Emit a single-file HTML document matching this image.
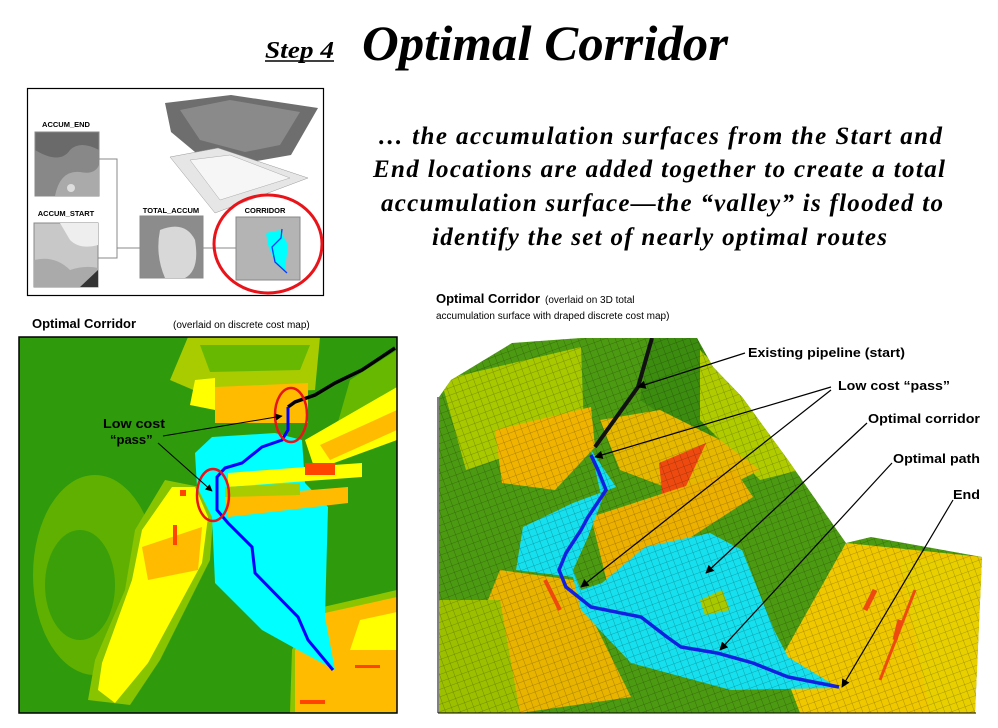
<!DOCTYPE html>
<html><head><meta charset="utf-8"><style>
html,body{margin:0;padding:0;background:#fff;}
svg{display:block;}
text{font-family:"Liberation Sans",sans-serif;}
.s{font-family:"Liberation Serif",serif;font-style:italic;font-weight:bold;}
.b{font-weight:bold;}
</style></head><body>
<svg width="998" height="728" viewBox="0 0 998 728" xmlns="http://www.w3.org/2000/svg">
<defs>
<marker id="ah" viewBox="0 0 10 10" refX="9" refY="5" markerWidth="7" markerHeight="7" orient="auto"><path d="M0,0L10,5L0,10z" fill="#000"/></marker>
<clipPath id="rc"><polygon points="439,397 451,380 512,343 581,338 697,338 713,367 742,397 788,460 846,543 871,537 982,557 975,713 439,713"/></clipPath>
<pattern id="grid" width="7" height="7" patternUnits="userSpaceOnUse" patternTransform="rotate(-20)"><path d="M0,0H7M0,0V7" stroke="#000" stroke-opacity="0.35" stroke-width="0.8" fill="none"/></pattern>
</defs>

<text class="s" x="265" y="58" font-size="24" textLength="69" lengthAdjust="spacingAndGlyphs">Step 4</text>
<line x1="265" y1="61" x2="334" y2="61" stroke="#000" stroke-width="1.5"/>
<text class="s" x="362" y="60" font-size="50" textLength="366" lengthAdjust="spacingAndGlyphs">Optimal Corridor</text>

<text class="s" x="378" y="144" font-size="25" textLength="564">… the accumulation surfaces from the Start and</text>
<text class="s" x="373" y="177" font-size="25" textLength="572">End locations are added together to create a total</text>
<text class="s" x="381" y="211" font-size="25" textLength="562">accumulation surface—the “valley” is flooded to</text>
<text class="s" x="432" y="245" font-size="25" textLength="455">identify the set of nearly optimal routes</text>

<rect x="27.5" y="88.5" width="296" height="207" fill="#fff" stroke="#000" stroke-width="1.2"/>
<polygon points="165,103 231,95 318,108 291,155 251,162 195,152 171,132" fill="#6e6e6e"/>
<polygon points="180,110 230,100 300,112 280,145 245,152 200,140" fill="#8a8a8a"/>
<polygon points="170,157 218,148 308,178 215,213" fill="#e6e6e6" stroke="#999" stroke-width="0.5"/>
<polygon points="190,160 230,155 290,178 220,200" fill="#f6f6f6" stroke="#aaa" stroke-width="0.5"/>
<text class="b" x="66" y="127" font-size="7.5" text-anchor="middle">ACCUM_END</text>
<rect x="35" y="132" width="64" height="64" fill="#6a6a6a" stroke="#888"/>
<path d="M35,150 Q60,165 70,150 Q80,140 99,150 V196 H35z" fill="#888"/>
<path d="M55,196 Q60,170 80,172 Q95,175 99,165 V196z" fill="#aaa"/>
<circle cx="71" cy="188" r="4" fill="#ddd"/>
<text class="b" x="66" y="216" font-size="7.5" text-anchor="middle">ACCUM_START</text>
<rect x="34" y="223" width="64" height="64" fill="#c8c8c8" stroke="#888"/>
<path d="M60,223 H98 V245 Q80,250 70,240z" fill="#eee"/>
<path d="M34,260 Q55,255 70,270 Q85,265 98,268 V287 H34z" fill="#aaa"/>
<path d="M80,287 L98,270 V287z" fill="#333"/>
<text class="b" x="171" y="213" font-size="7.5" text-anchor="middle">TOTAL_ACCUM</text>
<rect x="140" y="216" width="63" height="62" fill="#8c8c8c" stroke="#888"/>
<path d="M160,230 Q185,220 195,240 Q200,270 185,278 H165 Q155,255 160,230z" fill="#d8d8d8"/>
<text class="b" x="265" y="213" font-size="7.5" text-anchor="middle">CORRIDOR</text>
<rect x="236" y="217" width="64" height="63" fill="#b4b4b4" stroke="#888"/>
<polygon points="266,233 280,230 288,245 285,270 275,262 268,245" fill="#00ffff"/>
<polyline points="282,229 281,238 272,247 275,262 287,273" fill="none" stroke="#0040ff" stroke-width="1.3"/>
<polyline points="99,159 117,159 117,258 98,258" fill="none" stroke="#888"/>
<line x1="117" y1="248" x2="140" y2="248" stroke="#888"/>
<line x1="203" y1="248" x2="236" y2="248" stroke="#888"/>
<ellipse cx="268" cy="244" rx="54" ry="49" fill="none" stroke="#e8141a" stroke-width="3"/>

<text x="32" y="328" font-size="13" class="b">Optimal Corridor</text>
<text x="173" y="328" font-size="10">(overlaid on discrete cost map)</text>

<rect x="19" y="337" width="378" height="376" fill="#2f9a0c"/>
<polygon points="188,337 320,337 315,390 205,395 170,380" fill="#a8cc00"/>
<polygon points="200,345 310,345 300,370 210,372" fill="#66b800"/>
<polygon points="215,387 308,383 308,423 215,423" fill="#ffbb00"/>
<polygon points="195,380 215,378 215,410 190,405" fill="#ffff00"/>
<ellipse cx="95" cy="575" rx="62" ry="100" fill="#5fb000"/>
<ellipse cx="80" cy="585" rx="35" ry="55" fill="#3a9f08"/>
<polygon points="350,380 397,350 397,420 330,450" fill="#66b800"/>
<polygon points="305,440 397,387 397,440 315,470" fill="#ffff00"/>
<polygon points="320,445 397,410 397,430 330,460" fill="#ffbb00"/>
<polygon points="88,700 130,705 160,660 210,560 215,490 165,480 135,530 125,590 95,660" fill="#88c400"/>
<polygon points="98,690 115,703 148,663 202,563 208,517 195,487 172,487 142,530 132,580 102,663" fill="#ffff00"/>
<polygon points="142,547 202,527 198,570 148,580" fill="#ffbb00"/>
<rect x="173" y="525" width="4" height="20" fill="#ff4400"/>
<rect x="180" y="490" width="6" height="6" fill="#ff4400"/>
<polygon points="310,610 397,590 397,713 290,713 292,650" fill="#8cc400"/>
<polygon points="325,613 397,597 397,712 295,712 295,650" fill="#ffbb00"/>
<polygon points="360,620 397,612 397,650 350,650" fill="#ffff00"/>
<rect x="300" y="700" width="25" height="4" fill="#ff4400"/>
<rect x="355" y="665" width="25" height="3" fill="#ff4400"/>
<polygon points="195,453 212,437 275,433 302,440 305,483 328,507 325,617 335,670 298,650 262,630 215,583 212,517 197,487" fill="#00ffff"/>
<polygon points="228,473 305,467 362,463 362,477 228,487" fill="#ffff00"/>
<polygon points="225,497 348,487 348,503 228,517" fill="#ffbb00"/>
<polygon points="225,487 300,483 300,495 225,497" fill="#a8cc00"/>
<rect x="305" y="463" width="30" height="12" fill="#ff4400"/>
<polyline points="288,407 295,402 315,395 335,383 362,370 395,348" fill="none" stroke="#000" stroke-width="3.5"/>
<polyline points="288,407 288,430 282,440 262,447 242,463 225,468 217,477 217,510 228,523 252,547 255,573 298,617 308,640 333,670" fill="none" stroke="#0000ff" stroke-width="3"/>
<ellipse cx="291" cy="415" rx="16" ry="27" fill="none" stroke="#e8141a" stroke-width="2.5"/>
<ellipse cx="213" cy="495" rx="16" ry="26" fill="none" stroke="#e8141a" stroke-width="2.5"/>
<rect x="19" y="337" width="378" height="376" fill="none" stroke="#000" stroke-width="1.5"/>
<text class="b" x="103" y="428" font-size="13" textLength="62" lengthAdjust="spacingAndGlyphs">Low cost</text>
<text class="b" x="110" y="444" font-size="13">“pass”</text>
<line x1="163" y1="436" x2="282" y2="416" stroke="#000" marker-end="url(#ah)"/>
<line x1="158" y1="443" x2="212" y2="491" stroke="#000" marker-end="url(#ah)"/>

<text x="436" y="303" font-size="13" class="b">Optimal Corridor</text>
<text x="545" y="303" font-size="10">(overlaid on 3D total</text>
<text x="436" y="319" font-size="10">accumulation surface with draped discrete cost map)</text>

<g clip-path="url(#rc)">
<rect x="430" y="330" width="560" height="390" fill="#4c9a12"/>
<polygon points="441,380 581,347 584,430 466,470" fill="#a8c800"/>
<polygon points="650,338 720,338 760,420 700,440 640,400" fill="#3c8c10"/>
<polygon points="700,350 740,390 800,470 760,480 700,420" fill="#b0cc00"/>
<polygon points="495,430 591,407 595,447 555,490 502,483" fill="#f0b400"/>
<polygon points="600,420 660,410 720,440 760,470 700,500 620,470" fill="#e6b800"/>
<polygon points="659,463 706,443 681,497 663,500" fill="#ee4a10"/>
<polygon points="591,517 735,470 753,497 609,590" fill="#ecb000"/>
<polygon points="500,570 573,580 631,697 520,713 470,713 480,620" fill="#e8b400"/>
<polygon points="439,600 500,600 520,713 439,713" fill="#9cc000"/>
<polygon points="846,543 982,557 975,713 800,713 780,660" fill="#f0c800"/>
<polygon points="900,560 982,560 975,713 930,713" fill="#e8d000"/>
<polygon points="591,450 616,487 573,503 523,527 516,570 573,577 581,610 631,663 731,690 839,688 788,657 774,630 742,550 710,533 645,547 602,583 581,590 573,570 588,537 602,500" fill="#16e0ee"/>
<polygon points="700,600 722,590 730,610 705,615" fill="#a8c800"/>
<rect x="430" y="330" width="560" height="390" fill="url(#grid)"/>
<polyline points="652,338 638,387 595,447" fill="none" stroke="#111" stroke-width="4"/>
<polyline points="591,455 598,470 606,490 588,517 581,530 566,553 559,570 566,587 591,607 641,617 667,637 681,647 717,653 753,663 788,677 839,687" fill="none" stroke="#1020e0" stroke-width="3.5"/>
<polyline points="875,590 865,610" stroke="#ee4a10" stroke-width="5"/>
<polyline points="900,620 895,640" stroke="#ee4a10" stroke-width="5"/>
<polyline points="915,590 880,680" stroke="#ee4a10" stroke-width="3"/>
<polyline points="545,580 560,610" stroke="#ee4a10" stroke-width="4"/>
</g>
<text class="b" x="748" y="357" font-size="12.5" textLength="157" lengthAdjust="spacingAndGlyphs">Existing pipeline (start)</text>
<text class="b" x="838" y="390" font-size="12.5" textLength="112" lengthAdjust="spacingAndGlyphs">Low cost “pass”</text>
<text class="b" x="868" y="423" font-size="12.5" textLength="112" lengthAdjust="spacingAndGlyphs">Optimal corridor</text>
<text class="b" x="893" y="463" font-size="12.5" textLength="87" lengthAdjust="spacingAndGlyphs">Optimal path</text>
<text class="b" x="953" y="499" font-size="12.5" textLength="27" lengthAdjust="spacingAndGlyphs">End</text>
<g stroke="#000" stroke-width="1.2">
<line x1="745" y1="353" x2="638" y2="387" marker-end="url(#ah)"/>
<line x1="831" y1="387" x2="595" y2="457" marker-end="url(#ah)"/>
<line x1="831" y1="390" x2="581" y2="587" marker-end="url(#ah)"/>
<line x1="867" y1="423" x2="706" y2="573" marker-end="url(#ah)"/>
<line x1="892" y1="463" x2="720" y2="650" marker-end="url(#ah)"/>
<line x1="953" y1="500" x2="842" y2="687" marker-end="url(#ah)"/>
</g>
<line x1="438" y1="397" x2="438" y2="713" stroke="#000"/>
<line x1="438" y1="713" x2="976" y2="713" stroke="#000"/>
</svg>
</body></html>
